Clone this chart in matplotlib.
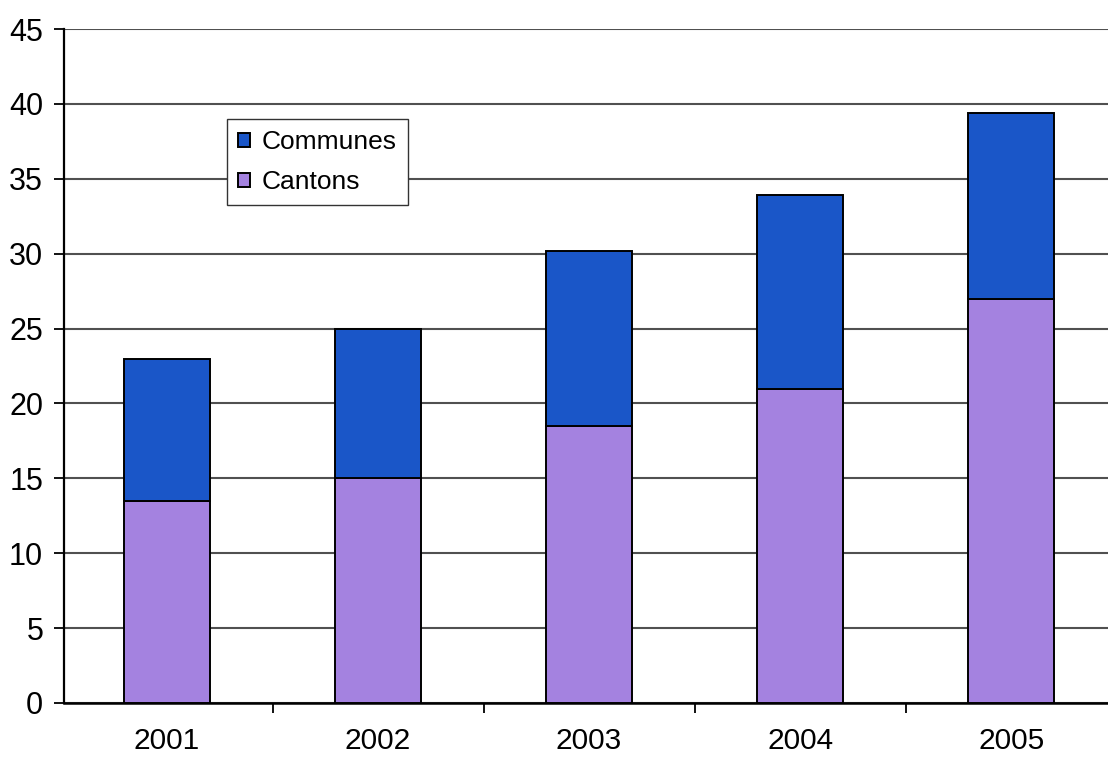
import matplotlib.pyplot as plt
import numpy as np

plt.rcParams['font.family'] = ['Liberation Sans', 'DejaVu Sans']

annees = ['2001', '2002', '2003', '2004', '2005']
cantons = [13.5, 15.0, 18.5, 21.0, 27.0]
totaux = [23.0, 25.0, 30.2, 33.9, 39.4]
communes = [t - c for t, c in zip(totaux, cantons)]

bleu = '#1a56c8'
violet = '#a482e0'

fig = plt.figure(figsize=(11.08, 7.58), dpi=100)
ax = fig.add_axes([0.0578, 0.0726, 0.950, 0.889])

x = np.arange(len(annees))
ax.bar(x, cantons, width=0.41, color=violet, edgecolor='black', linewidth=1.4,
       label='Cantons', zorder=3)
ax.bar(x, communes, width=0.41, bottom=cantons, color=bleu, edgecolor='black',
       linewidth=1.4, label='Communes', zorder=3)

ax.set_xlim(-0.488, 4.5)
ax.set_ylim(0, 45)
ax.set_yticks(range(0, 46, 5))
ax.yaxis.grid(True, color='#505050', linewidth=1.5, zorder=0)
ax.set_axisbelow(True)

ax.set_xticks(x)
ax.set_xticklabels(annees)
ax.set_xticks(np.arange(0.5, 4.5, 1), minor=True)
ax.tick_params(axis='x', which='major', length=0, pad=17, labelsize=21.5)
ax.tick_params(axis='x', which='minor', length=7, width=1.3, direction='out')
ax.tick_params(axis='y', length=7, width=1.3, labelsize=22, pad=8)

for s in ['top', 'right']:
    ax.spines[s].set_visible(False)
ax.spines['left'].set_linewidth(1.6)
ax.spines['bottom'].set_linewidth(1.8)

h, l = ax.get_legend_handles_labels()
leg = ax.legend(h[::-1], l[::-1], loc='upper left', bbox_to_anchor=(0.155, 0.866),
                borderaxespad=0, fontsize=19, fancybox=False, framealpha=1,
                edgecolor='#333333', handlelength=0.45, handleheight=0.45,
                handletextpad=0.45, borderpad=0.42, labelspacing=0.6)
leg.get_frame().set_linewidth(1.0)

fig.savefig('out.png', dpi=100)
